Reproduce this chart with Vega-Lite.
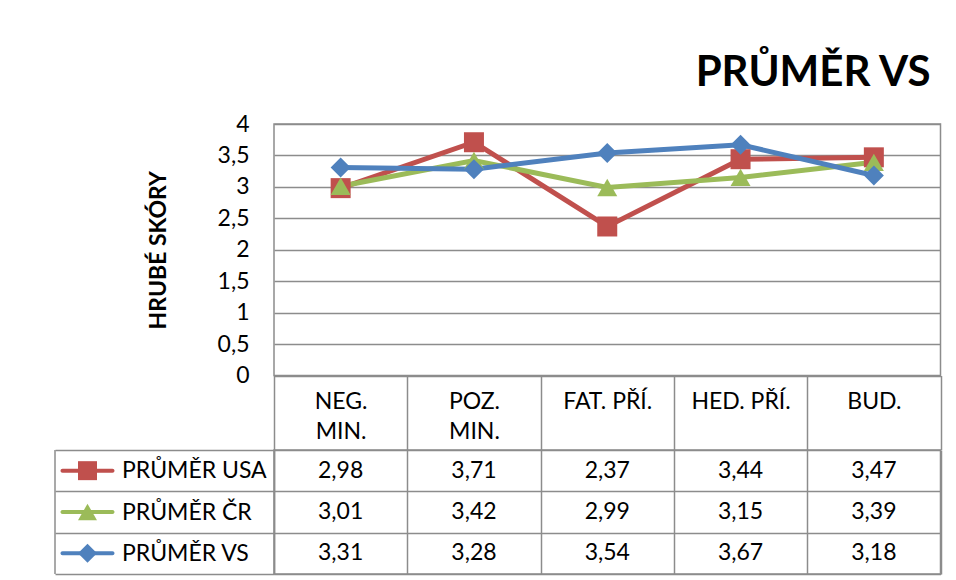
{
  "$schema": "https://vega.github.io/schema/vega-lite/v6.json",
  "background": "white",
  "autosize": {"type": "pad"},
  "padding": {"left": 53, "right": 16, "top": 52, "bottom": 6},
  "title": {"text": "PRŮMĚR VS", "anchor": "end", "font": "Lato", "fontSize": 42, "fontWeight": "bold", "color": "black", "offset": 17, "dx": -12},
  "datasets": {
    "scores": [
      {"series": "PRŮMĚR USA", "category": "NEG. MIN.", "value": 2.98},
      {"series": "PRŮMĚR USA", "category": "POZ. MIN.", "value": 3.71},
      {"series": "PRŮMĚR USA", "category": "FAT. PŘÍ.", "value": 2.37},
      {"series": "PRŮMĚR USA", "category": "HED. PŘÍ.", "value": 3.44},
      {"series": "PRŮMĚR USA", "category": "BUD.", "value": 3.47},
      {"series": "PRŮMĚR ČR", "category": "NEG. MIN.", "value": 3.01},
      {"series": "PRŮMĚR ČR", "category": "POZ. MIN.", "value": 3.42},
      {"series": "PRŮMĚR ČR", "category": "FAT. PŘÍ.", "value": 2.99},
      {"series": "PRŮMĚR ČR", "category": "HED. PŘÍ.", "value": 3.15},
      {"series": "PRŮMĚR ČR", "category": "BUD.", "value": 3.39},
      {"series": "PRŮMĚR VS", "category": "NEG. MIN.", "value": 3.31},
      {"series": "PRŮMĚR VS", "category": "POZ. MIN.", "value": 3.28},
      {"series": "PRŮMĚR VS", "category": "FAT. PŘÍ.", "value": 3.54},
      {"series": "PRŮMĚR VS", "category": "HED. PŘÍ.", "value": 3.67},
      {"series": "PRŮMĚR VS", "category": "BUD.", "value": 3.18}
    ]
  },
  "data": {"name": "scores"},
  "bounds": "flush",
  "spacing": 74,
  "vconcat": [
    {
      "width": 666.5,
      "height": 251.5,
      "encoding": {
        "x": {
          "field": "category", "type": "nominal",
          "sort": ["NEG. MIN.", "POZ. MIN.", "FAT. PŘÍ.", "HED. PŘÍ.", "BUD."],
          "scale": {"paddingInner": 0, "paddingOuter": 0},
          "axis": {
            "title": null, "orient": "bottom", "domain": false, "grid": false,
            "ticks": true, "tickBand": "extent", "tickSize": 74,
            "labelAngle": 0, "labelBaseline": "middle", "labelPadding": -48,
            "labelFontSize": 23, "labelLineHeight": 30, "labelOverlap": false, "labelLimit": 300,
            "labelExpr": "indexof(datum.label, 'MIN') >= 0 ? split(datum.label, ' ') : datum.label"
          }
        },
        "y": {
          "field": "value", "type": "quantitative",
          "scale": {"domain": [0, 4], "nice": false},
          "axis": {
            "title": "HRUBÉ SKÓRY", "titleFontSize": 23, "titleFontWeight": "bold", "titleFont": "Lato", "titlePadding": 47,
            "values": [0, 0.5, 1, 1.5, 2, 2.5, 3, 3.5, 4], "format": "~g",
            "domain": false, "ticks": false, "labelPadding": 25, "labelFontSize": 23, "grid": true
          }
        },
        "color": {
          "field": "series", "type": "nominal",
          "scale": {"domain": ["PRŮMĚR USA", "PRŮMĚR ČR", "PRŮMĚR VS"], "range": ["#C0504D", "#9BBB59", "#4F81BD"]},
          "legend": null
        }
      },
      "layer": [
        {"mark": {"type": "line", "strokeWidth": 5}},
        {
          "mark": {"type": "point", "filled": true, "size": 400, "opacity": 1},
          "encoding": {
            "shape": {
              "field": "series", "type": "nominal",
              "scale": {"domain": ["PRŮMĚR USA", "PRŮMĚR ČR", "PRŮMĚR VS"], "range": ["square", "triangle-up", "diamond"]},
              "legend": null
            }
          }
        }
      ]
    },
    {
      "width": 666.5,
      "height": 124,
      "layer": [
        {
          "mark": {"type": "text", "font": "Lato", "fontSize": 23, "color": "black"},
          "encoding": {
            "x": {
              "field": "category", "type": "nominal",
              "sort": ["NEG. MIN.", "POZ. MIN.", "FAT. PŘÍ.", "HED. PŘÍ.", "BUD."],
              "scale": {"paddingInner": 0, "paddingOuter": 0},
              "axis": {"title": null, "labels": false, "ticks": false, "domain": false, "grid": true, "tickBand": "extent"}
            },
            "y": {
              "field": "series", "type": "nominal",
              "sort": ["PRŮMĚR USA", "PRŮMĚR ČR", "PRŮMĚR VS"],
              "scale": {"paddingInner": 0, "paddingOuter": 0},
              "axis": {
                "title": null, "domain": true, "ticks": true, "tickSize": 219, "tickBand": "extent", "grid": true,
                "labelAlign": "left", "labelPadding": -66.5, "labelFontSize": 23, "labelLimit": 300
              }
            },
            "text": {"field": "value", "type": "quantitative", "format": ".2f"}
          }
        },
        {
          "encoding": {
            "x": {
              "datum": "key", "type": "nominal",
              "scale": {"domain": ["key"], "range": [-219, -154], "paddingInner": 0, "paddingOuter": 0},
              "axis": null
            }
          },
          "layer": [
            {
              "mark": {"type": "rule", "color": "#8c8c8c", "strokeWidth": 1.5},
              "transform": [{"filter": "datum.category == 'BUD.' && datum.series == 'PRŮMĚR USA'"}],
              "encoding": {
                "x": {
                  "datum": "key", "type": "nominal", "bandPosition": 0,
                  "scale": {"domain": ["key"], "range": [-219, -154], "paddingInner": 0, "paddingOuter": 0},
                  "axis": null
                }
              }
            },
            {
              "mark": {"type": "tick", "orient": "horizontal", "size": 54, "thickness": 4, "cornerRadius": 2, "opacity": 1},
              "transform": [{"filter": "datum.category == 'BUD.'"}],
              "encoding": {
                "y": {
                  "field": "series", "type": "nominal", "sort": ["PRŮMĚR USA", "PRŮMĚR ČR", "PRŮMĚR VS"],
                  "scale": {"paddingInner": 0, "paddingOuter": 0},
                  "axis": {
                    "title": null, "domain": true, "ticks": true, "tickSize": 219, "tickBand": "extent", "grid": true,
                    "labelAlign": "left", "labelPadding": -66.5, "labelFontSize": 23, "labelLimit": 300
                  }
                },
                "color": {
                  "field": "series", "type": "nominal",
                  "scale": {"domain": ["PRŮMĚR USA", "PRŮMĚR ČR", "PRŮMĚR VS"], "range": ["#C0504D", "#9BBB59", "#4F81BD"]},
                  "legend": null
                }
              }
            },
            {
              "mark": {"type": "point", "filled": true, "size": 360, "opacity": 1},
              "transform": [{"filter": "datum.category == 'BUD.'"}],
              "encoding": {
                "y": {
                  "field": "series", "type": "nominal", "sort": ["PRŮMĚR USA", "PRŮMĚR ČR", "PRŮMĚR VS"],
                  "scale": {"paddingInner": 0, "paddingOuter": 0},
                  "axis": {
                    "title": null, "domain": true, "ticks": true, "tickSize": 219, "tickBand": "extent", "grid": true,
                    "labelAlign": "left", "labelPadding": -66.5, "labelFontSize": 23, "labelLimit": 300
                  }
                },
                "color": {
                  "field": "series", "type": "nominal",
                  "scale": {"domain": ["PRŮMĚR USA", "PRŮMĚR ČR", "PRŮMĚR VS"], "range": ["#C0504D", "#9BBB59", "#4F81BD"]},
                  "legend": null
                },
                "shape": {
                  "field": "series", "type": "nominal",
                  "scale": {"domain": ["PRŮMĚR USA", "PRŮMĚR ČR", "PRŮMĚR VS"], "range": ["square", "triangle-up", "diamond"]},
                  "legend": null
                }
              }
            }
          ]
        }
      ],
      "resolve": {"scale": {"x": "independent"}}
    }
  ],
  "config": {
    "font": "Lato",
    "view": {"stroke": "#8c8c8c", "strokeWidth": 1.5},
    "axis": {
      "labelFont": "Lato", "labelColor": "black", "titleColor": "black",
      "gridColor": "#8c8c8c", "gridWidth": 1.5, "gridOpacity": 1,
      "tickColor": "#8c8c8c", "tickWidth": 1.5,
      "domainColor": "#8c8c8c", "domainWidth": 1.5
    },
    "locale": {"number": {"decimal": ",", "thousands": " ", "grouping": [3], "currency": ["", " Kč"]}}
  }
}
